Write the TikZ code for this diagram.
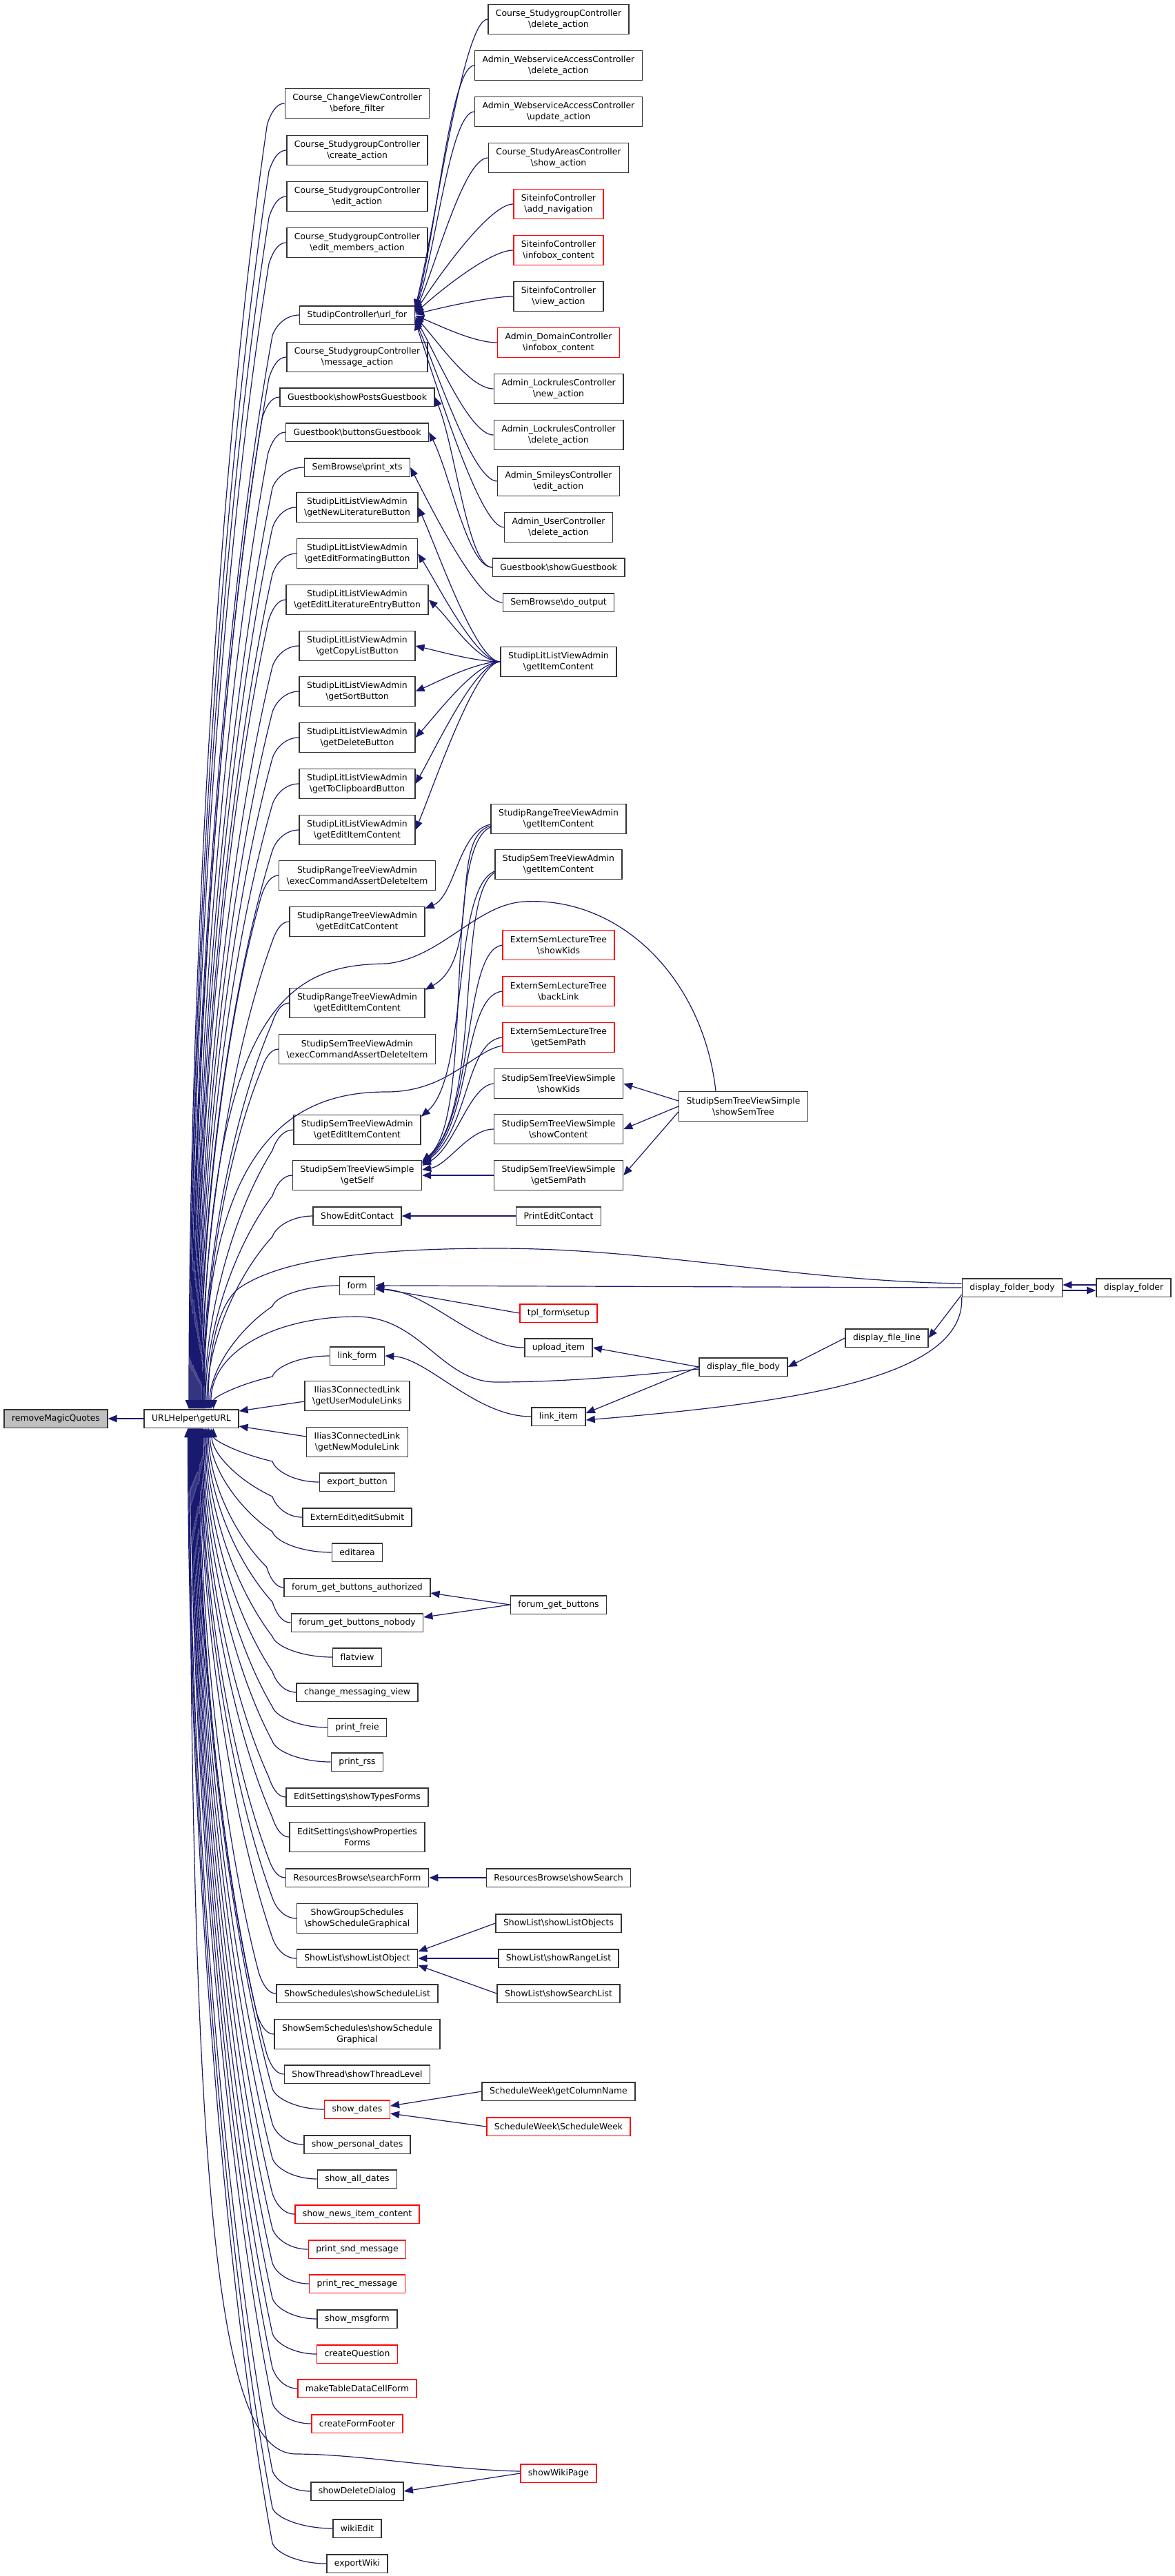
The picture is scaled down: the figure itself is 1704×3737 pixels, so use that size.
\documentclass[tikz,border=0pt]{standalone}
\usepackage{fontspec}
\setmainfont{DejaVu Sans}
\usetikzlibrary{arrows.meta,calc}
\definecolor{eblue}{HTML}{191970}
\definecolor{bgray}{HTML}{333333}
\definecolor{nred}{HTML}{FF0000}
\definecolor{rootfill}{HTML}{BFBFBF}
\newcommand{\BSL}{\textbackslash}
\tikzset{
 nd/.style={draw=bgray, line width=1.5pt, fill=white, font=\fontsize{12.4}{16}\selectfont, inner xsep=11pt, inner ysep=2pt, minimum height=26.5pt, align=center},
 nd2/.style={nd, minimum height=43pt},
 rn/.style={nd, draw=nred},
 rn2/.style={nd2, draw=nred},
 cedge/.style={draw=eblue, line width=1.2pt, -{Triangle[length=13pt,width=10.5pt]}},
}
% edge from a node to URLHelper (top or bottom)
\newcommand{\EdgeU}[4]{\draw[cedge] let \p1=(#1.west), \p2=(URL.#3),
  \p3=({min(395pt,\x1-25pt)},{\y1+(#4)*30pt}), \p4=({\x2+(#2)*1pt},\y2) in
  (\p1) .. controls ({0.5*\x1+0.5*\x3},\y1) and ({\x3+5pt},{\y1+(#4)*15pt}) .. (\p3)
  .. controls ({\x3-0.6*(\x3-\x4)},{\y3+0.25*(\y4-\y3)}) and (\x4,{\y4-0.35*(\y4-\y3)}) .. (\p4);}
\newcommand{\EdgeN}[2]{\EdgeU{#1}{#2}{north}{-1}}
\newcommand{\EdgeS}[2]{\EdgeU{#1}{#2}{south}{1}}
% edge from a right-column node to a left-column node
\newcommand{\EdgeCB}[3]{\draw[cedge] let \p1=(#1.west), \p2=([yshift=#3pt]#2.east) in
  (\p1) .. controls ({\x1-35pt},\y1) and ({\x2+30pt},{\y2+0.3*(\y1-\y2)}) .. (\p2);}
\begin{document}
\begin{tikzpicture}[x=1pt,y=-1pt]
\path[fill=white] (0,0) rectangle (1704,3737);
% root and URLHelper
\node[nd, fill=rootfill] (rmq) at (81,2058) {removeMagicQuotes};
\node[nd] (URL) at (277.5,2058) {URLHelper\BSL{}getURL};
% column A
\node[nd2] (A1) at (518,150) {Course\_ChangeViewController\\\BSL{}before\_filter};
\node[nd2] (A2) at (518,218) {Course\_StudygroupController\\\BSL{}create\_action};
\node[nd2] (A3) at (518,285) {Course\_StudygroupController\\\BSL{}edit\_action};
\node[nd2] (A4) at (518,352) {Course\_StudygroupController\\\BSL{}edit\_members\_action};
\node[nd] (A5) at (518,457) {StudipController\BSL{}url\_for};
\node[nd2] (A6) at (518,518) {Course\_StudygroupController\\\BSL{}message\_action};
\node[nd] (A7) at (518,576) {Guestbook\BSL{}showPostsGuestbook};
\node[nd] (A8) at (518,627) {Guestbook\BSL{}buttonsGuestbook};
\node[nd] (A9) at (518,678) {SemBrowse\BSL{}print\_xts};
\node[nd2] (A10) at (518,736) {StudipLitListViewAdmin\\\BSL{}getNewLiteratureButton};
\node[nd2] (A11) at (518,803) {StudipLitListViewAdmin\\\BSL{}getEditFormatingButton};
\node[nd2] (A12) at (518,870) {StudipLitListViewAdmin\\\BSL{}getEditLiteratureEntryButton};
\node[nd2] (A13) at (518,937) {StudipLitListViewAdmin\\\BSL{}getCopyListButton};
\node[nd2] (A14) at (518,1003) {StudipLitListViewAdmin\\\BSL{}getSortButton};
\node[nd2] (A15) at (518,1070) {StudipLitListViewAdmin\\\BSL{}getDeleteButton};
\node[nd2] (A16) at (518,1137) {StudipLitListViewAdmin\\\BSL{}getToClipboardButton};
\node[nd2] (A17) at (518,1204) {StudipLitListViewAdmin\\\BSL{}getEditItemContent};
\node[nd2] (A18) at (518,1270) {StudipRangeTreeViewAdmin\\\BSL{}execCommandAssertDeleteItem};
\node[nd2] (A19) at (518,1337) {StudipRangeTreeViewAdmin\\\BSL{}getEditCatContent};
\node[nd2] (A20) at (518,1455) {StudipRangeTreeViewAdmin\\\BSL{}getEditItemContent};
\node[nd2] (A21) at (518,1522) {StudipSemTreeViewAdmin\\\BSL{}execCommandAssertDeleteItem};
\node[nd2] (A22) at (518,1639) {StudipSemTreeViewAdmin\\\BSL{}getEditItemContent};
\node[nd2] (A23) at (518,1705) {StudipSemTreeViewSimple\\\BSL{}getSelf};
\node[nd] (A24) at (518,1764) {ShowEditContact};
\node[nd] (A25) at (518,1865) {form};
\node[nd] (A26) at (518,1967) {link\_form};
\node[nd2] (A27) at (518,2025) {Ilias3ConnectedLink\\\BSL{}getUserModuleLinks};
\node[nd2] (A28) at (518,2092) {Ilias3ConnectedLink\\\BSL{}getNewModuleLink};
\node[nd] (A29) at (518,2150) {export\_button};
\node[nd] (A30) at (518,2201) {ExternEdit\BSL{}editSubmit};
\node[nd] (A31) at (518,2252) {editarea};
\node[nd] (A32) at (518,2303) {forum\_get\_buttons\_authorized};
\node[nd] (A33) at (518,2354) {forum\_get\_buttons\_nobody};
\node[nd] (A34) at (518,2404) {flatview};
\node[nd] (A35) at (518,2455) {change\_messaging\_view};
\node[nd] (A36) at (518,2506) {print\_freie};
\node[nd] (A37) at (518,2556) {print\_rss};
\node[nd] (A38) at (518,2607) {EditSettings\BSL{}showTypesForms};
\node[nd2] (A39) at (518,2665) {EditSettings\BSL{}showProperties\\Forms};
\node[nd] (A40) at (518,2724) {ResourcesBrowse\BSL{}searchForm};
\node[nd2] (A41) at (518,2783) {ShowGroupSchedules\\\BSL{}showScheduleGraphical};
\node[nd] (A42) at (518,2841) {ShowList\BSL{}showListObject};
\node[nd] (A43) at (518,2892) {ShowSchedules\BSL{}showScheduleList};
\node[nd2] (A44) at (518,2951) {ShowSemSchedules\BSL{}showSchedule\\Graphical};
\node[nd] (A45) at (518,3009) {ShowThread\BSL{}showThreadLevel};
\node[rn] (A46) at (518,3060) {show\_dates};
\node[nd] (A47) at (518,3111) {show\_personal\_dates};
\node[nd] (A48) at (518,3161) {show\_all\_dates};
\node[rn] (A49) at (518,3212) {show\_news\_item\_content};
\node[rn] (A50) at (518,3263) {print\_snd\_message};
\node[rn] (A51) at (518,3313) {print\_rec\_message};
\node[nd] (A52) at (518,3364) {show\_msgform};
\node[rn] (A53) at (518,3415) {createQuestion};
\node[rn] (A54) at (518,3465) {makeTableDataCellForm};
\node[rn] (A55) at (518,3516) {createFormFooter};
\node[nd] (A56) at (518,3614) {showDeleteDialog};
\node[nd] (A57) at (518,3668) {wikiEdit};
\node[nd] (A58) at (518,3719) {exportWiki};
% column B
\node[nd2] (B1) at (810,28) {Course\_StudygroupController\\\BSL{}delete\_action};
\node[nd2] (B2) at (810,95) {Admin\_WebserviceAccessController\\\BSL{}delete\_action};
\node[nd2] (B3) at (810,162) {Admin\_WebserviceAccessController\\\BSL{}update\_action};
\node[nd2] (B4) at (810,229) {Course\_StudyAreasController\\\BSL{}show\_action};
\node[rn2] (B5) at (810,296) {SiteinfoController\\\BSL{}add\_navigation};
\node[rn2] (B6) at (810,363) {SiteinfoController\\\BSL{}infobox\_content};
\node[nd2] (B7) at (810,430) {SiteinfoController\\\BSL{}view\_action};
\node[rn2] (B8) at (810,497) {Admin\_DomainController\\\BSL{}infobox\_content};
\node[nd2] (B9) at (810,564) {Admin\_LockrulesController\\\BSL{}new\_action};
\node[nd2] (B10) at (810,631) {Admin\_LockrulesController\\\BSL{}delete\_action};
\node[nd2] (B11) at (810,698) {Admin\_SmileysController\\\BSL{}edit\_action};
\node[nd2] (B12) at (810,765) {Admin\_UserController\\\BSL{}delete\_action};
\node[nd] (B13) at (810,823) {Guestbook\BSL{}showGuestbook};
\node[nd] (B14) at (810,874) {SemBrowse\BSL{}do\_output};
\node[nd2] (B15) at (810,960) {StudipLitListViewAdmin\\\BSL{}getItemContent};
\node[nd2] (B16) at (810,1188) {StudipRangeTreeViewAdmin\\\BSL{}getItemContent};
\node[nd2] (B17) at (810,1254) {StudipSemTreeViewAdmin\\\BSL{}getItemContent};
\node[rn2] (B18) at (810,1371) {ExternSemLectureTree\\\BSL{}showKids};
\node[rn2] (B19) at (810,1438) {ExternSemLectureTree\\\BSL{}backLink};
\node[rn2] (B20) at (810,1505) {ExternSemLectureTree\\\BSL{}getSemPath};
\node[nd2] (B21) at (810,1572) {StudipSemTreeViewSimple\\\BSL{}showKids};
\node[nd2] (B22) at (810,1638) {StudipSemTreeViewSimple\\\BSL{}showContent};
\node[nd2] (B23) at (810,1705) {StudipSemTreeViewSimple\\\BSL{}getSemPath};
\node[nd] (B24) at (810,1764) {PrintEditContact};
\node[rn] (B25) at (810,1905) {tpl\_form\BSL{}setup};
\node[nd] (B26) at (810,1955) {upload\_item};
\node[nd] (B27) at (810,2055) {link\_item};
\node[nd] (B28) at (810,2328) {forum\_get\_buttons};
\node[nd] (B29) at (810,2724) {ResourcesBrowse\BSL{}showSearch};
\node[nd] (B30) at (810,2790) {ShowList\BSL{}showListObjects};
\node[nd] (B31) at (810,2841) {ShowList\BSL{}showRangeList};
\node[nd] (B32) at (810,2892) {ShowList\BSL{}showSearchList};
\node[nd] (B33) at (810,3034) {ScheduleWeek\BSL{}getColumnName};
\node[rn] (B34) at (810,3085) {ScheduleWeek\BSL{}ScheduleWeek};
\node[rn] (B35) at (810,3588) {showWikiPage};
% columns C..
\node[nd2] (C1) at (1078,1605) {StudipSemTreeViewSimple\\\BSL{}showSemTree};
\node[nd] (C2) at (1078,1983) {display\_file\_body};
\node[nd] (C3) at (1286,1941) {display\_file\_line};
\node[nd] (C4) at (1468,1868) {display\_folder\_body};
\node[nd] (C5) at (1644,1868) {display\_folder};

% ---------------- edges
\draw[cedge] (URL.west) -- (rmq.east);
% upper callers of URLHelper
\EdgeN{A1}{-3.5}
\EdgeN{A2}{-2.5}
\EdgeN{A3}{-1.5}
\EdgeN{A4}{-0.5}
\EdgeN{A5}{0.5}
\EdgeN{A6}{1.5}
\EdgeN{A7}{2.5}
\EdgeN{A8}{3.5}
\EdgeN{A9}{4.5}
\EdgeN{A10}{5.5}
\EdgeN{A11}{6.5}
\EdgeN{A12}{7.5}
\EdgeN{A13}{8.5}
\EdgeN{A14}{9.5}
\EdgeN{A15}{10.5}
\EdgeN{A16}{11.5}
\EdgeN{A17}{12.5}
\EdgeN{A18}{13.5}
\EdgeN{A19}{14.5}
\EdgeN{A20}{16.5}
\EdgeN{A21}{17.5}
\EdgeN{A22}{19.5}
\EdgeN{A23}{20.5}
\EdgeN{A24}{22.5}
\EdgeN{A25}{26.5}
\EdgeN{A26}{32}
\draw[cedge] ([yshift=-8pt]A27.west) -- ([yshift=11pt]URL.east);
\draw[cedge] ([yshift=8pt]A28.west) -- ([yshift=-11pt]URL.east);
% lower callers of URLHelper
\EdgeS{A29}{32}
\EdgeS{A30}{29.5}
\EdgeS{A31}{27}
\EdgeS{A32}{25}
\EdgeS{A33}{23}
\EdgeS{A34}{21.5}
\EdgeS{A35}{20}
\EdgeS{A36}{18.5}
\EdgeS{A37}{17}
\EdgeS{A38}{16}
\EdgeS{A39}{15}
\EdgeS{A40}{14}
\EdgeS{A41}{13}
\EdgeS{A42}{12}
\EdgeS{A43}{11}
\EdgeS{A44}{10}
\EdgeS{A45}{9}
\EdgeS{A46}{8}
\EdgeS{A47}{7}
\EdgeS{A48}{6}
\EdgeS{A49}{5}
\EdgeS{A50}{4}
\EdgeS{A51}{3}
\EdgeS{A52}{2}
\EdgeS{A53}{1}
\EdgeS{A54}{0}
\EdgeS{A55}{-1}
\EdgeS{A56}{-3}
\EdgeS{A57}{-4}
\EdgeS{A58}{-5}
% long edges into URLHelper
\draw[cedge] ([xshift=-40pt]C1.north) .. controls (1020,1420) and (900,1300) .. (760,1308)
  .. controls (690,1312) and (640,1390) .. (560,1398)
  .. controls (430,1400) and (300,1440) .. ([xshift=15.5pt]URL.north);
\draw[cedge] ([yshift=-12pt]B20.west) .. controls (685,1525) and (650,1584) .. (560,1584)
  .. controls (440,1584) and (296,1640) .. ([xshift=18.5pt]URL.north);
\draw[cedge] ([yshift=6pt]C4.west) .. controls (1150,1858) and (950,1811) .. (720,1811)
  .. controls (520,1811) and (400,1830) .. (345,1870)
  .. controls (310,1900) and (302,1980) .. ([xshift=24.5pt]URL.north);
\draw[cedge] ([yshift=-3pt]C2.west) .. controls (930,1995) and (820,2005) .. (720,2005)
  .. controls (640,2005) and (610,1910) .. (517,1910)
  .. controls (400,1910) and (306,1960) .. ([xshift=28.5pt]URL.north);
\draw[cedge] ([yshift=3pt]B35.west) .. controls (650,3583) and (520,3560) .. (430,3560)
  .. controls (330,3560) and (276,3300) .. ([xshift=-2pt]URL.south);
% callers of StudipController\url_for
\EdgeCB{B1}{A5}{10}
\EdgeCB{B2}{A5}{8.5}
\EdgeCB{B3}{A5}{7}
\EdgeCB{B4}{A5}{5.5}
\EdgeCB{B5}{A5}{4}
\EdgeCB{B6}{A5}{2.5}
\EdgeCB{B7}{A5}{1}
\EdgeCB{B8}{A5}{-1}
\EdgeCB{B9}{A5}{-3}
\EdgeCB{B10}{A5}{-5}
\EdgeCB{B11}{A5}{-7}
\EdgeCB{B12}{A5}{-9}
% Guestbook, SemBrowse
\EdgeCB{B13}{A7}{0}
\EdgeCB{B13}{A8}{0}
\EdgeCB{B14}{A9}{0}
% LitList getItemContent
\EdgeCB{B15}{A10}{0}
\EdgeCB{B15}{A11}{0}
\EdgeCB{B15}{A12}{0}
\EdgeCB{B15}{A13}{0}
\EdgeCB{B15}{A14}{0}
\EdgeCB{B15}{A15}{0}
\EdgeCB{B15}{A16}{0}
\EdgeCB{B15}{A17}{0}
% tree views
\draw[cedge] ([yshift=-8pt]B16.west) .. controls (665,1205) and (660,1300) .. ([yshift=-3pt]A19.north east);
\draw[cedge] ([yshift=-10pt]B16.west) .. controls (650,1215) and (700,1390) .. ([yshift=-3pt]A20.north east);
\draw[cedge] ([yshift=-12pt]B16.west) .. controls (640,1230) and (690,1620) .. ([yshift=-2pt]A23.north east);
\draw[cedge] ([yshift=-10pt]B17.west) .. controls (655,1290) and (680,1560) .. ([yshift=-3pt]A22.north east);
\draw[cedge] ([yshift=-12pt]B17.west) .. controls (660,1300) and (700,1610) .. ([yshift=-3pt]A23.north east);
\draw[cedge] (B18.west) .. controls (670,1380) and (690,1620) .. ([yshift=-4pt]A23.north east);
\draw[cedge] (B19.west) .. controls (670,1445) and (685,1630) .. ([yshift=-5pt]A23.north east);
\draw[cedge] (B20.west) .. controls (675,1510) and (680,1640) .. ([yshift=-6pt]A23.north east);
\draw[cedge] (B21.west) .. controls (680,1575) and (660,1665) .. ([yshift=-8pt]A23.north east);
\draw[cedge] (B22.west) .. controls (680,1638) and (650,1690) .. ([yshift=8pt]A23.east);
\draw[cedge] (B23.west) -- (A23.east);
\draw[cedge] ([yshift=8pt]C1.west) -- (B21.east);
\draw[cedge] (C1.west) -- (B22.east);
\draw[cedge] ([yshift=-8pt]C1.west) -- (B23.east);
% contacts, forms, folders
\draw[cedge] (B24.west) -- (A24.east);
\draw[cedge] (C4.west) -- (A25.east);
\draw[cedge] (B25.west) -- ([yshift=-3pt]A25.east);
\draw[cedge] (B26.west) .. controls (690,1955) and (620,1872) .. ([yshift=-5pt]A25.east);
\draw[cedge] (B27.west) .. controls (690,2055) and (620,1970) .. (A26.east);
\draw[cedge] (C2.west) -- (B26.east);
\draw[cedge] (C2.west) -- ([yshift=5pt]B27.east);
\draw[cedge] (C4.south west) .. controls (1400,2000) and (1150,2035) .. ([yshift=-5pt]B27.east);
\draw[cedge] (C3.west) -- (C2.east);
\draw[cedge] ([yshift=-10pt]C4.west) -- (C3.east);
\draw[cedge] ([yshift=4pt]C5.west) -- ([yshift=4pt]C4.east);
\draw[cedge] ([yshift=-4pt]C4.east) -- ([yshift=-4pt]C5.west);
% lower right callers
\draw[cedge] (B28.west) -- ([yshift=-8pt]A32.east);
\draw[cedge] (B28.west) -- ([yshift=8pt]A33.east);
\draw[cedge] (B29.west) -- (A40.east);
\draw[cedge] (B30.west) -- ([yshift=10pt]A42.east);
\draw[cedge] (B31.west) -- (A42.east);
\draw[cedge] (B32.west) -- ([yshift=-10pt]A42.east);
\draw[cedge] (B33.west) -- ([yshift=5pt]A46.east);
\draw[cedge] (B34.west) -- ([yshift=-6pt]A46.east);
\draw[cedge] (B35.west) -- (A56.east);
\end{tikzpicture}
\end{document}
